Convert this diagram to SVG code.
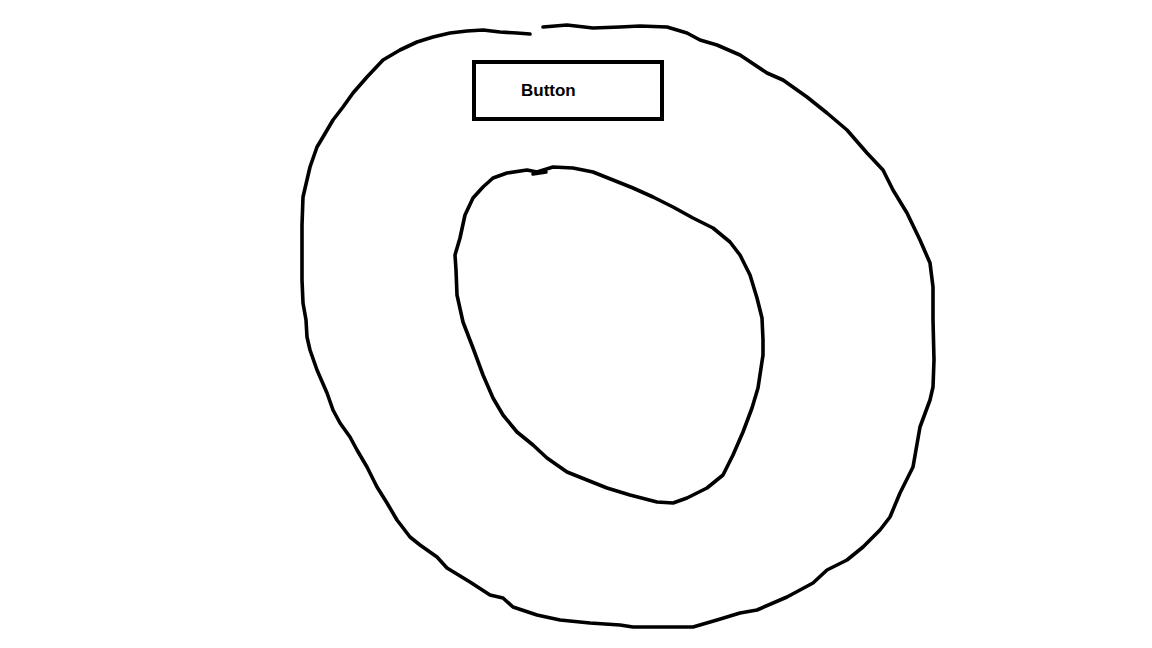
<svg xmlns="http://www.w3.org/2000/svg" width="1152" height="648" viewBox="0 0 1152 648">
<style>
.ln{fill:none;stroke:#000;stroke-width:3.6;stroke-linejoin:round;stroke-linecap:round}
.btn{fill:#fff;stroke:#000;stroke-width:4}
.lbl{font-family:"Liberation Sans",Arial,sans-serif;font-weight:bold;font-size:17px;fill:#000}
</style>
<rect width="1152" height="648" fill="#fff"/>
<g id="outer-ring">
<path class="ln" d="M530,34 L517,33 L500,32 L483,30 L467,31 L450,33 L433,37 L417,42 L400,50 L383,60 L367,77 L353,93 L343,107 L333,120 L323,137 L317,147 L310,167 L303,197 L302,225 L302,253 L302,280 L303,303 L306,320 L307,337 L310,350 L317,370 L327,393 L333,410 L340,423 L350,437 L357,450 L367,467 L377,487 L387,503 L397,520 L410,537 L420,545 L437,557 L447,568 L470,582 L490,595 L503,598 L513,607 L537,615 L560,620 L590,623 L620,625 L633,627 L665,627 L693,627 L717,620 L740,613 L757,610 L787,597 L813,583 L827,570 L847,560 L863,547 L880,530 L890,517 L900,493 L913,467 L920,427 L930,400 L933,387 L934,360 L933,320 L933,287 L930,263 L920,240 L907,213 L893,190 L883,170 L867,153 L847,130 L827,113 L807,97 L783,80 L767,73 L740,55 L717,45 L700,40 L687,33 L667,27 L640,26 L620,27 L593,28 L567,25 L543,27"/>
</g>
<g id="inner-ring">
<path class="ln" d="M537,172 L553,167 L573,168 L593,172 L613,180 L633,188 L653,197 L673,207 L693,218 L713,228 L730,242 L740,255 L750,275 L757,298 L762,318 L763,340 L763,355 L758,388 L752,408 L743,432 L733,455 L723,475 L707,488 L687,498 L673,503 L657,502 L630,495 L607,488 L587,480 L567,472 L547,458 L533,445 L517,432 L503,415 L493,398 L483,375 L473,348 L463,322 L457,295 L456,270 L455,255 L460,238 L465,215 L473,198 L483,187 L493,178 L507,173 L527,170 L537,172 Z"/>
<path class="ln" d="M533,174 L546,172" />
</g>
<g id="button">
<rect class="btn" x="474" y="62" width="188" height="57"/>
<text class="lbl" x="521" y="96">Button</text>
</g>
</svg>
